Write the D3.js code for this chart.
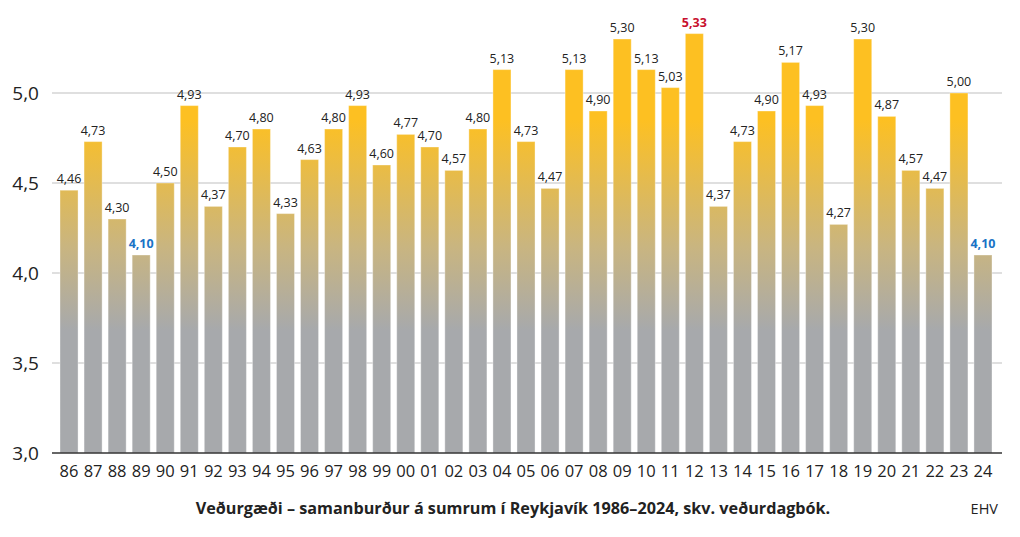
<!DOCTYPE html>
<html>
<head>
<meta charset="utf-8">
<script src="https://cdn.jsdelivr.net/npm/d3@7"></script>
<style>
  body { margin: 0; background: #fff; }
  svg { display: block; font-family: "Open Sans", "Noto Sans", sans-serif; }
</style>
</head>
<body>
<svg id="chart" width="1020" height="537"></svg>
<script>
// Years (two-digit labels) and summer weather quality scores
const years = ['86','87','88','89','90','91','92','93','94','95','96','97','98','99',
  '00','01','02','03','04','05','06','07','08','09','10','11','12','13','14','15',
  '16','17','18','19','20','21','22','23','24'];
const scores = [4.46, 4.73, 4.30, 4.10, 4.50, 4.93, 4.37, 4.70, 4.80, 4.33, 4.63, 4.80,
  4.93, 4.60, 4.77, 4.70, 4.57, 4.80, 5.13, 4.73, 4.47, 5.13, 4.90, 5.30, 5.13, 5.03,
  5.33, 4.37, 4.73, 4.90, 5.17, 4.93, 4.27, 5.30, 4.87, 4.57, 4.47, 5.00, 4.10];
const yTicks = [3.0, 3.5, 4.0, 4.5, 5.0];

const fmt = v => v.toFixed(2).replace('.', ',');
const maxV = d3.max(scores);
const minV = d3.min(scores);

const svg = d3.select('#chart');

const x = d3.scaleBand()
  .domain(years)
  .range([57, 995])
  .paddingInner(0.25)
  .paddingOuter(0.125);

const y = d3.scaleLinear()
  .domain([3.0, 5.0])
  .range([453, 93]);

// Gradient in absolute coordinates: gray at the bottom, yellow at the top
const defs = svg.append('defs');
const grad = defs.append('linearGradient')
  .attr('id', 'barGrad')
  .attr('gradientUnits', 'userSpaceOnUse')
  .attr('x1', 0).attr('x2', 0)
  .attr('y1', y(3.68)).attr('y2', y(4.85));
grad.append('stop').attr('offset', 0).attr('stop-color', '#a7a9ac');
grad.append('stop').attr('offset', 0.4).attr('stop-color', '#c9b580');
grad.append('stop').attr('offset', 1).attr('stop-color', '#fdc022');

// Grid lines
svg.append('g')
  .selectAll('line')
  .data(yTicks.filter(t => t > 3.0))
  .enter()
  .append('line')
  .attr('x1', 52).attr('x2', 1002)
  .attr('y1', d => y(d)).attr('y2', d => y(d))
  .attr('stroke', '#d4d4d4')
  .attr('stroke-width', 1.5);

// Y tick labels
svg.append('g')
  .selectAll('text')
  .data(yTicks)
  .enter()
  .append('text')
  .attr('x', 39)
  .attr('y', d => y(d) + 7)
  .attr('text-anchor', 'end')
  .attr('font-size', 19)
  .attr('fill', '#222')
  .text(d => d.toFixed(1).replace('.', ','));

// Bars
svg.append('g')
  .selectAll('rect')
  .data(scores)
  .enter()
  .append('rect')
  .attr('x', (d, i) => x(years[i]))
  .attr('y', d => y(d))
  .attr('width', x.bandwidth())
  .attr('height', d => y(3.0) - y(d))
  .attr('fill', 'url(#barGrad)')
  .attr('stroke', 'rgba(255,255,255,0.35)')
  .attr('stroke-width', 1);

// Value labels
svg.append('g')
  .selectAll('text')
  .data(scores)
  .enter()
  .append('text')
  .attr('x', (d, i) => x(years[i]) + x.bandwidth() / 2)
  .attr('y', d => y(d) - 7)
  .attr('text-anchor', 'middle')
  .attr('font-size', 12.5)
  .attr('font-weight', d => (d === maxV || d === minV) ? 'bold' : 'normal')
  .attr('fill', d => d === maxV ? '#c8102e' : d === minV ? '#1a73c6' : '#222')
  .text(fmt);

// X axis line
svg.append('line')
  .attr('x1', 52).attr('x2', 1002)
  .attr('y1', y(3.0)).attr('y2', y(3.0))
  .attr('stroke', '#333')
  .attr('stroke-width', 1.5);

// X tick labels
svg.append('g')
  .selectAll('text')
  .data(years)
  .enter()
  .append('text')
  .attr('x', d => x(d) + x.bandwidth() / 2)
  .attr('y', 477)
  .attr('text-anchor', 'middle')
  .attr('font-size', 16.5)
  .attr('fill', '#222')
  .text(d => d);

// Caption
svg.append('text')
  .attr('x', 513)
  .attr('y', 514)
  .attr('text-anchor', 'middle')
  .attr('font-size', 16.2)
  .attr('font-weight', 'bold')
  .attr('fill', '#222')
  .text('Veðurgæði – samanburður á sumrum í Reykjavík 1986–2024, skv. veðurdagbók.');

svg.append('text')
  .attr('x', 998)
  .attr('y', 514)
  .attr('text-anchor', 'end')
  .attr('font-size', 14.5)
  .attr('fill', '#222')
  .text('EHV');
</script>
</body>
</html>
